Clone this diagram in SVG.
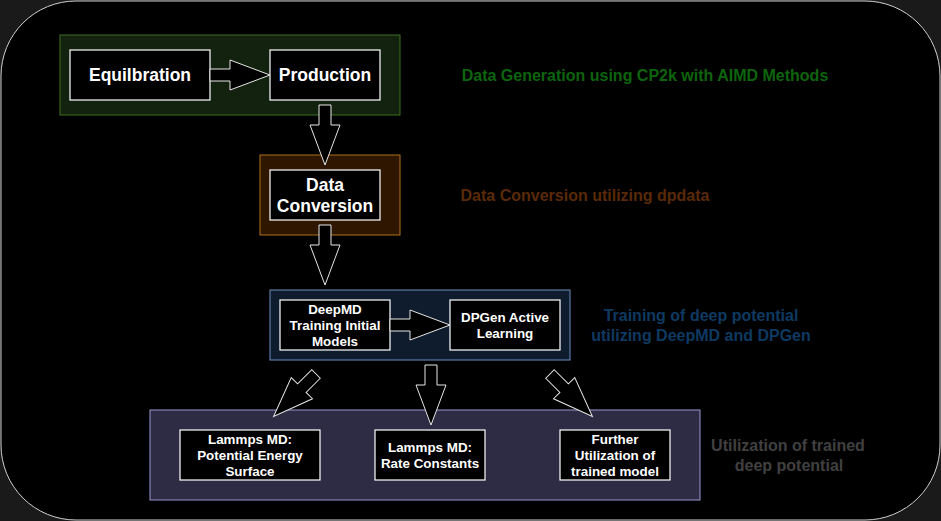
<svg xmlns="http://www.w3.org/2000/svg" width="941" height="521" viewBox="0 0 941 521">
<style>
.box{fill:#000;stroke:#fff;stroke-width:1.2}
.t{font-family:"Liberation Sans",Arial,sans-serif;font-weight:bold;fill:#fff;text-anchor:middle}
.big{font-size:17.5px}
.sm{font-size:13.4px}
.lbl{font-family:"Liberation Sans",Arial,sans-serif;font-weight:bold;font-size:16px;text-anchor:middle}
.arr{fill:#000;stroke:#e6e6e6;stroke-width:1}
</style>
<defs>
<path id="ba" d="M0,-6 L20,-6 L20,-15 L60,0 L20,15 L20,6 L0,6 Z"/>
</defs>
<rect x="0" y="0" width="941" height="521" fill="#1a1a1a"/>
<rect x="1" y="1" width="939" height="519" rx="75" ry="75" fill="#000" stroke="#d0d0d0" stroke-width="1"/>

<g id="group-generation">
<rect x="60" y="35" width="340" height="80" fill="#13220f" stroke="#3f7020" stroke-width="1"/>
</g>
<g id="group-conversion">
<rect x="260" y="155" width="140" height="80" fill="#2e1600" stroke="#b0701a" stroke-width="1"/>
</g>
<g id="group-training">
<rect x="270" y="290" width="300" height="70" fill="#0f1c2e" stroke="#6c8ebf" stroke-width="1"/>
</g>
<g id="group-utilization">
<rect x="150" y="410" width="550" height="90" fill="#2e2c44" stroke="#9a98d0" stroke-width="1"/>
</g>

<g id="equilbration">
<rect class="box" x="70" y="50" width="140" height="50"/>
<text class="t big" x="140" y="81">Equilbration</text>
</g>
<g id="production">
<rect class="box" x="270" y="50" width="110" height="50"/>
<text class="t big" x="325" y="81">Production</text>
</g>
<g id="data-conversion">
<rect class="box" x="270" y="170" width="110" height="50"/>
<text class="t big" x="325" y="191">Data</text>
<text class="t big" x="325" y="212">Conversion</text>
</g>
<g id="deepmd">
<rect class="box" x="280" y="300" width="110" height="50"/>
<text class="t sm" x="335" y="314">DeepMD</text>
<text class="t sm" x="335" y="330">Training Initial</text>
<text class="t sm" x="335" y="346">Models</text>
</g>
<g id="dpgen">
<rect class="box" x="450" y="300" width="110" height="50"/>
<text class="t sm" x="505" y="321.5">DPGen Active</text>
<text class="t sm" x="505" y="337.5">Learning</text>
</g>
<g id="lammps-pes">
<rect class="box" x="180" y="430" width="140" height="50"/>
<text class="t sm" x="250" y="443.5">Lammps MD:</text>
<text class="t sm" x="250" y="459.5">Potential Energy</text>
<text class="t sm" x="250" y="475.5">Surface</text>
</g>
<g id="lammps-rate">
<rect class="box" x="375" y="430" width="110" height="50"/>
<text class="t sm" x="430" y="451.5">Lammps MD:</text>
<text class="t sm" x="430" y="467.5">Rate Constants</text>
</g>
<g id="further">
<rect class="box" x="560" y="430" width="110" height="50"/>
<text class="t sm" x="615" y="443.5">Further</text>
<text class="t sm" x="615" y="459.5">Utilization of</text>
<text class="t sm" x="615" y="475.5">trained model</text>
</g>

<g id="labels">
<text class="lbl" x="645" y="81" fill="#0d640d">Data Generation using CP2k with AIMD Methods</text>
<text class="lbl" x="585" y="201" fill="#5a2a08">Data Conversion utilizing dpdata</text>
<text class="lbl" x="701" y="321" fill="#0e3a62">Training of deep potential</text>
<text class="lbl" x="701" y="341" fill="#0e3a62">utilizing DeepMD and DPGen</text>
<text class="lbl" x="788" y="451" fill="#404040">Utilization of trained</text>
<text class="lbl" x="789" y="471" fill="#404040">deep potential</text>
</g>

<g id="connectors">
<use href="#ba" class="arr" transform="translate(210,75)"/>
<use href="#ba" class="arr" transform="translate(325,105) rotate(90)"/>
<use href="#ba" class="arr" transform="translate(325,225) rotate(90)"/>
<use href="#ba" class="arr" transform="translate(390,325)"/>
<use href="#ba" class="arr" transform="translate(316,374) rotate(135)"/>
<use href="#ba" class="arr" transform="translate(431,365) rotate(90)"/>
<use href="#ba" class="arr" transform="translate(550,374) rotate(45)"/>
</g>
</svg>
